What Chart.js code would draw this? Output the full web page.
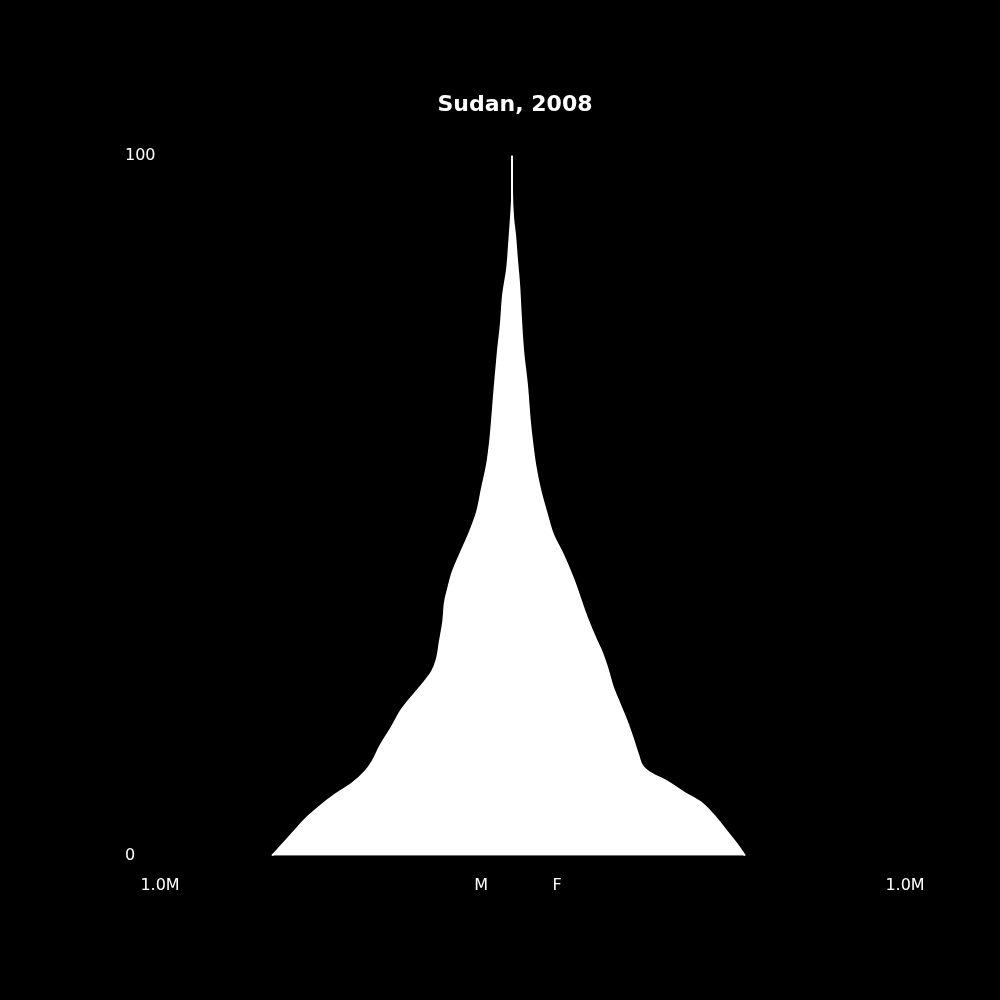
<!DOCTYPE html>
<html>
<head>
<meta charset="utf-8">
<script src="https://cdn.jsdelivr.net/npm/chart.js@4.4.1/dist/chart.umd.min.js"></script>
<style>
html,body{margin:0;padding:0;background:#000;}
#wrap{width:1000px;height:1000px;position:relative;background:#000;}
</style>
</head>
<body>
<div id="wrap"><canvas id="c"></canvas></div>
<script>
const chartTitle = 'Sudan, 2008';

const maleAges = [0, 2, 4.1, 5.6, 7.3, 8.7, 10.3, 12, 13.4, 15.6, 18.4, 20.9, 22, 24.4, 26.3, 28.1, 30.6, 33.4, 36.3, 38.1, 40.6, 43, 46.3, 49.1, 52.4, 55.9, 59.1, 62, 67.3, 72, 75.9, 80.1, 83.9, 87.3, 91, 94, 100];
const maleValues = [645000, 610000, 575000, 548000, 511000, 476000, 430000, 395000, 376000, 355000, 323000, 296000, 280000, 242000, 215000, 202000, 194000, 185000, 180000, 172000, 159000, 140000, 113000, 94000, 81000, 67000, 59000, 54000, 46000, 38000, 30000, 24000, 13000, 8000, 3000, 0, 0];

const femaleAges = [0, 1.6, 3.4, 5.9, 7.7, 9.1, 10.6, 11.7, 12.7, 14.4, 16.7, 18.7, 21.6, 24.1, 27, 29.6, 30.6, 33.9, 39.6, 43, 45.9, 48.7, 52.4, 55.9, 59.1, 62, 67.3, 72, 76.7, 81.6, 85.3, 88.7, 91, 95, 100];
const femaleValues = [626000, 605000, 578000, 540000, 505000, 460000, 417000, 376000, 352000, 339000, 325000, 312000, 290000, 271000, 255000, 237000, 228000, 202000, 164000, 137000, 110000, 94000, 75000, 62000, 54000, 48000, 40000, 30000, 24000, 19000, 13000, 8000, 3000, 0, 0];

const yTickValues = [0, 100];
const yTickLabels = ['0', '100'];
const xTickValues = [-946000, -83000, 121000, 1056000];
const xTickLabels = ['1.0M', 'M', 'F', '1.0M'];

Chart.defaults.font.family = "'DejaVu Sans', sans-serif";
Chart.defaults.font.size = 16;
Chart.defaults.color = '#ffffff';

const maleData = maleAges.map((a, i) => ({x: -maleValues[i], y: a}));
const femaleData = femaleAges.map((a, i) => ({x: femaleValues[i], y: a}));

new Chart(document.getElementById('c'), {
  type: 'line',
  data: {
    datasets: [
      {
        label: 'M',
        data: maleData,
        borderColor: '#ffffff',
        backgroundColor: '#ffffff',
        borderWidth: 2,
        pointRadius: 0,
        cubicInterpolationMode: 'monotone',
        fill: '+1'
      },
      {
        label: 'F',
        data: femaleData,
        borderColor: '#ffffff',
        backgroundColor: '#ffffff',
        borderWidth: 2,
        pointRadius: 0,
        cubicInterpolationMode: 'monotone',
        fill: false
      }
    ]
  },
  options: {
    indexAxis: 'y',
    responsive: true,
    maintainAspectRatio: false,
    animation: false,
    layout: {padding: {left: 125, right: 95, top: 0, bottom: 85}},
    plugins: {
      legend: {display: false},
      tooltip: {enabled: false},
      title: {
        display: true,
        text: chartTitle,
        color: '#ffffff',
        font: {size: 22, weight: 'bold'},
        padding: {top: 92, bottom: 37}
      }
    },
    scales: {
      x: {
        type: 'linear',
        min: xTickValues[0],
        max: xTickValues[xTickValues.length - 1],
        grid: {display: false, drawTicks: false},
        border: {display: false},
        afterBuildTicks: (s) => { s.ticks = xTickValues.map(v => ({value: v})); },
        ticks: {
          padding: 20,
          maxRotation: 0,
          autoSkip: false,
          color: '#ffffff',
          callback: (v) => { const i = xTickValues.indexOf(v); return i >= 0 ? xTickLabels[i] : ''; }
        }
      },
      y: {
        type: 'linear',
        min: 0,
        max: 100,
        grid: {display: false, drawTicks: false},
        border: {display: false},
        afterBuildTicks: (s) => { s.ticks = yTickValues.map(v => ({value: v})); },
        afterFit: (s) => { s.width = 35; },
        ticks: {
          padding: 4,
          crossAlign: 'far',
          autoSkip: false,
          color: '#ffffff',
          callback: (v) => { const i = yTickValues.indexOf(v); return i >= 0 ? yTickLabels[i] : ''; }
        }
      }
    }
  }
});
</script>
</body>
</html>
